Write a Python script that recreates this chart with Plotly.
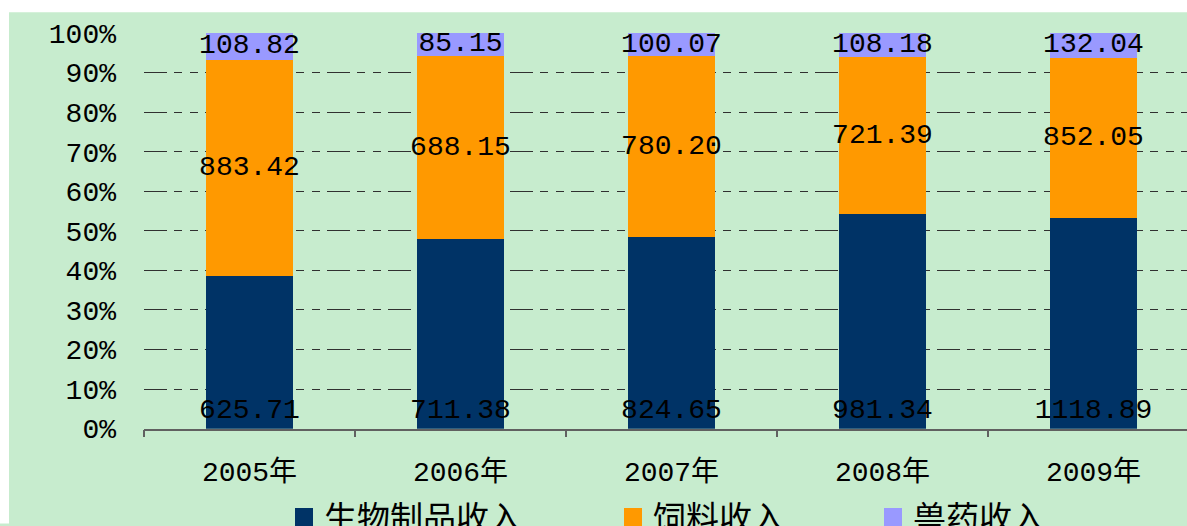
import plotly.graph_objects as go

years = ["2005年", "2006年", "2007年", "2008年", "2009年"]
bio = [625.71, 711.38, 824.65, 981.34, 1118.89]
feed = [883.42, 688.15, 780.20, 721.39, 852.05]
vet = [108.82, 85.15, 100.07, 108.18, 132.04]
names = ["生物制品收入", "饲料收入", "兽药收入"]
colors = ["#003366", "#FF9900", "#9999FF"]
y_ticks = [0, 10, 20, 30, 40, 50, 60, 70, 80, 90, 100]
y_tick_text = [f"{v}%" for v in y_ticks]

W, H = 1187, 526
ML, MR, MT, MB = 144, 0, 33, 92
GREEN = "#C7ECCE"
NUM_FONT = "Liberation Mono, Noto Sans CJK SC"

fig = go.Figure()
series = [bio, feed]
anchors = ["start", "middle"]
for vals, name, col, anc in zip(series, names[:2], colors[:2], anchors):
    fig.add_trace(go.Bar(
        x=years, y=vals, name=name, marker=dict(color=col, line=dict(width=0)),
        text=vals, texttemplate="%{text:.2f}", textposition="inside",
        insidetextanchor=anc, textangle=0, constraintext="none",
        insidetextfont=dict(family=NUM_FONT, size=28, color="#000000"),
        cliponaxis=False, showlegend=False, hoverinfo="skip"))
fig.add_trace(go.Bar(
    x=years, y=vet, name=names[2], marker=dict(color=colors[2], line=dict(width=0)),
    textposition="none", showlegend=False, hoverinfo="skip"))

# labels of the top (vet) segment, centred in the segment
totals = [a + b + c for a, b, c in zip(bio, feed, vet)]
vet_mid = [100 - 50 * v / t for v, t in zip(vet, totals)]
fig.add_trace(go.Scatter(
    x=years, y=vet_mid, mode="text", text=[f"{v:.2f}" for v in vet],
    textposition="middle center", cliponaxis=False,
    textfont=dict(family=NUM_FONT, size=28, color="#000000"),
    showlegend=False, hoverinfo="skip"))

for i, (name, col) in enumerate(zip(names, colors)):
    lg = "legend" if i == 0 else f"legend{i+1}"
    fig.add_trace(go.Scatter(
        x=[None], y=[None], mode="markers", name=name,
        marker=dict(symbol="square", size=16, color=col, line=dict(color=col, width=2)),
        showlegend=True, legend=lg, hoverinfo="skip"))

legend_x = [296, 625, 885]

def legend_cfg(px):
    return dict(xref="container", yref="container", x=(px - 12) / W, xanchor="left",
                y=1 - 489 / H, yanchor="top", orientation="h",
                bgcolor="rgba(0,0,0,0)", borderwidth=0, itemwidth=30,
                itemsizing="trace",
                font=dict(family="Noto Sans CJK SC", size=33, color="#000000"))

pw = W - ML - MR
ph = H - MT - MB
fig.update_layout(
    width=W, height=H,
    margin=dict(l=ML, r=MR, t=MT, b=MB, pad=0),
    barmode="stack", barnorm="percent", bargap=0.583,
    paper_bgcolor=GREEN, plot_bgcolor=GREEN,
    legend=legend_cfg(legend_x[0]),
    legend2=legend_cfg(legend_x[1]),
    legend3=legend_cfg(legend_x[2]),
    xaxis=dict(
        type="category", range=[-0.5, -0.5 + pw / 211.0],
        showline=True, linecolor="#606060", linewidth=1.5,
        ticks="outside", ticklen=7, tickcolor="#606060", tickwidth=1.5,
        tickson="boundaries", showgrid=False, ticklabelstandoff=17,
        tickfont=dict(family=NUM_FONT, size=28, color="#000000"),
    ),
    yaxis=dict(
        range=[0, 100], tickmode="array", tickvals=y_ticks, ticktext=y_tick_text,
        showline=False, zeroline=False, ticks="",
        showgrid=True, gridcolor="#303030", gridwidth=1,
        griddash="23px,7px,8px,8px,8px,7px",
        ticklabelstandoff=27,
        tickfont=dict(family=NUM_FONT, size=28, color="#000000"),
    ),
    shapes=[
        # white top band
        dict(type="rect", xref="paper", yref="paper", layer="below",
             x0=-ML / pw - 0.01, x1=1.01, y0=1 + (MT - 12) / ph, y1=1 + MT / ph + 0.01,
             fillcolor="#FFFFFF", line=dict(width=0)),
        # white left band
        dict(type="rect", xref="paper", yref="paper", layer="below",
             x0=-ML / pw - 0.01, x1=(9 - ML) / pw, y0=-MB / ph - 0.01, y1=1 + MT / ph + 0.01,
             fillcolor="#FFFFFF", line=dict(width=0)),
    ],
)

fig.write_html("out.html", config={"displayModeBar": False},
               post_script="document.body.style.margin='0';")
